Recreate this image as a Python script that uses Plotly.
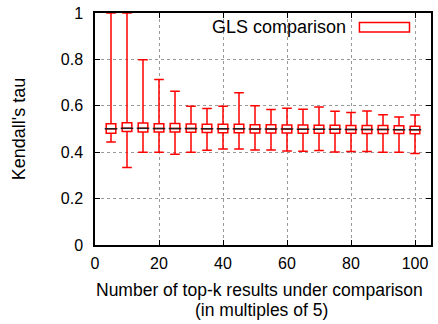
import plotly.graph_objects as go

# ---- data ----
top_k = [5, 10, 15, 20, 25, 30, 35, 40, 45, 50, 55, 60, 65, 70, 75, 80, 85, 90, 95, 100]
upper_whisker = [1.0, 1.0, 0.798, 0.713, 0.663, 0.598, 0.588, 0.598, 0.656, 0.600,
                 0.584, 0.589, 0.585, 0.595, 0.577, 0.571, 0.578, 0.561, 0.552, 0.560]
lower_whisker = [0.444, 0.334, 0.400, 0.400, 0.391, 0.400, 0.408, 0.414, 0.414, 0.410,
                 0.410, 0.405, 0.404, 0.407, 0.401, 0.403, 0.403, 0.400, 0.400, 0.394]
q3_vals = [0.523, 0.527, 0.526, 0.523, 0.524, 0.522, 0.521, 0.520, 0.520, 0.518,
           0.518, 0.517, 0.517, 0.516, 0.516, 0.515, 0.515, 0.515, 0.514, 0.512]
q1_vals = [0.482, 0.489, 0.487, 0.487, 0.487, 0.486, 0.485, 0.484, 0.484, 0.483,
           0.483, 0.483, 0.482, 0.482, 0.482, 0.482, 0.481, 0.481, 0.481, 0.479]
median_vals = [0.501, 0.503, 0.503, 0.502, 0.502, 0.502, 0.501, 0.501, 0.501, 0.500,
               0.500, 0.500, 0.499, 0.499, 0.499, 0.498, 0.498, 0.498, 0.497, 0.497]
x_ticks = [0, 20, 40, 60, 80, 100]
y_ticks = [0, 0.2, 0.4, 0.6, 0.8, 1]
y_tick_text = ["0", "0.2", "0.4", "0.6", "0.8", "1"]

FONT = "Liberation Sans, Arial, sans-serif"
RED = "#ff0000"

fig = go.Figure()
fig.add_trace(go.Box(
    x=top_k, q1=q1_vals, median=median_vals, q3=q3_vals,
    lowerfence=lower_whisker, upperfence=upper_whisker,
    width=3, whiskerwidth=1, boxpoints=False,
    fillcolor="white", line=dict(color=RED, width=1.5),
    name="GLS comparison", showlegend=False, hoverinfo="skip",
))
fig.add_trace(go.Scatter(
    x=top_k, y=median_vals, mode="markers",
    marker=dict(symbol="line-ew", size=9, line=dict(color="#222222", width=1.5)),
    showlegend=False, hoverinfo="skip",
))

axis_common = dict(
    showline=True, linecolor="black", linewidth=1.5, mirror="ticks",
    ticks="inside", ticklen=5, tickcolor="black", tickwidth=1,
    showgrid=True, gridcolor="#999999", griddash="dot", gridwidth=1,
    zeroline=False, tickfont=dict(family=FONT, size=16, color="black"),
)

fig.update_xaxes(range=[0, 105], tickvals=x_ticks, ticklabelstandoff=3, **axis_common)
fig.update_yaxes(range=[0, 1], tickvals=y_ticks, ticktext=y_tick_text, ticklabelstandoff=7,
                 title=dict(text="Kendall's tau", font=dict(family=FONT, size=18, color="black"),
                            standoff=30),
                 **axis_common)

fig.add_annotation(xref="paper", yref="paper", x=0.49, y=-0.194, yanchor="middle",
                   text="Number of top-k results under comparison", showarrow=False,
                   font=dict(family=FONT, size=17.5, color="black"))
fig.add_annotation(xref="paper", yref="paper", x=0.497, y=-0.281, yanchor="middle",
                   text="(in multiples of 5)", showarrow=False,
                   font=dict(family=FONT, size=17.5, color="black"))

# legend (gnuplot style: text left, sample right)
fig.add_annotation(xref="paper", yref="paper", x=0.754, y=0.938, xanchor="right", yanchor="middle",
                   text="GLS comparison", showarrow=False,
                   font=dict(family=FONT, size=18, color="black"))
fig.add_shape(type="rect", xref="paper", yref="paper", x0=0.787, x1=0.936, y0=0.918, y1=0.959,
              line=dict(color=RED, width=1.5), fillcolor="white")

fig.update_layout(
    width=438, height=324,
    margin=dict(l=95, r=5, t=9, b=79),
    plot_bgcolor="white", paper_bgcolor="white",
    font=dict(family=FONT, color="black"),
)

fig.write_html("out.html")
